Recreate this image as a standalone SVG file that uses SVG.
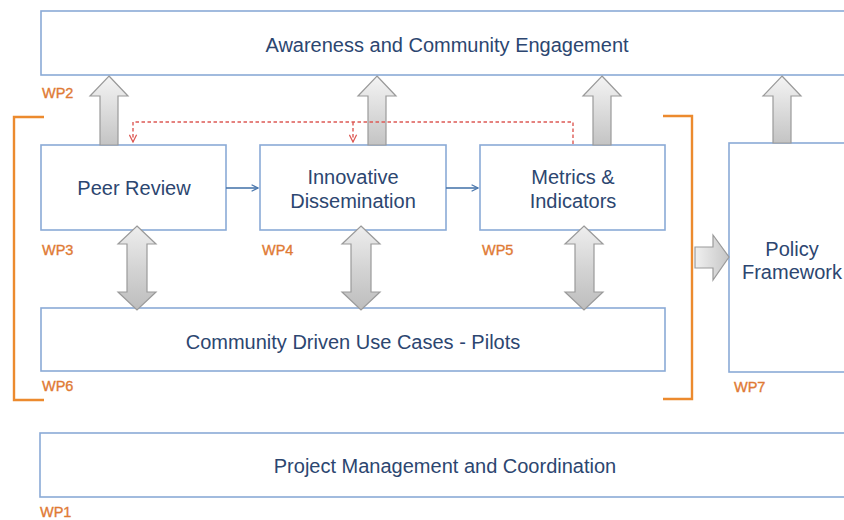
<svg xmlns="http://www.w3.org/2000/svg" width="844" height="520" viewBox="0 0 844 520">
<style>
.box{fill:#ffffff;stroke:#8aaad6;stroke-width:1.6}
.lbl{font-family:"Liberation Sans",Arial,sans-serif;font-size:20px;fill:#2c4670;text-anchor:middle}
.wp{font-family:"Liberation Sans",Arial,sans-serif;font-size:14.5px;fill:#e07a35;stroke:#e07a35;stroke-width:0.35}
.fat{stroke:#9a9a9a;stroke-width:1.2}
.dash{fill:none;stroke:#dd5a55;stroke-width:1.4;stroke-dasharray:3.5,2.5}
.flow{fill:none;stroke:#4c78ad;stroke-width:1.6}
.brk{fill:none;stroke:#ec8a2e;stroke-width:2.4}
</style>
<defs>
<linearGradient id="gv" x1="0" y1="0" x2="0" y2="1">
<stop offset="0" stop-color="#f4f4f4"/>
<stop offset="1" stop-color="#c4c4c4"/>
</linearGradient>
<linearGradient id="gh" x1="0" y1="0" x2="1" y2="0">
<stop offset="0" stop-color="#f0f0f0"/>
<stop offset="1" stop-color="#c6c6c6"/>
</linearGradient>
<linearGradient id="gd" x1="0" y1="0" x2="0" y2="1">
<stop offset="0" stop-color="#eeeeee"/>
<stop offset="0.5" stop-color="#d4d4d4"/>
<stop offset="1" stop-color="#bdbdbd"/>
</linearGradient>
<marker id="ab" viewBox="0 0 10 10" refX="9" refY="5" markerWidth="8" markerHeight="8" markerUnits="userSpaceOnUse" orient="auto">
<path d="M1,1 L9,5 L1,9" fill="none" stroke="#4c78ad" stroke-width="1.6"/>
</marker>
<marker id="ar" viewBox="0 0 10 10" refX="9" refY="5" markerWidth="9" markerHeight="9" markerUnits="userSpaceOnUse" orient="auto">
<path d="M1,1 L9,5 L1,9" fill="none" stroke="#dd5a55" stroke-width="1.4"/>
</marker>
</defs>

<g id="wp2">
<rect class="box" x="41" y="11" width="810" height="64"/>
<text class="lbl" x="447" y="52">Awareness and Community Engagement</text>
<text class="wp" x="42" y="98">WP2</text>
</g>
<g id="wp3">
<rect class="box" x="41" y="145" width="185" height="85"/>
<text class="lbl" x="134" y="195">Peer Review</text>
<text class="wp" x="42" y="255">WP3</text>
</g>
<g id="wp4">
<rect class="box" x="260" y="145" width="186" height="85"/>
<text class="lbl" x="353" y="184">Innovative</text>
<text class="lbl" x="353" y="208">Dissemination</text>
<text class="wp" x="262" y="255">WP4</text>
</g>
<g id="wp5">
<rect class="box" x="480" y="145" width="185" height="85"/>
<text class="lbl" x="573" y="184">Metrics &amp;</text>
<text class="lbl" x="573" y="208">Indicators</text>
<text class="wp" x="482" y="255">WP5</text>
</g>
<g id="wp6">
<rect class="box" x="41" y="308" width="624" height="63"/>
<text class="lbl" x="353" y="349">Community Driven Use Cases - Pilots</text>
<text class="wp" x="42" y="391">WP6</text>
</g>
<g id="wp7">
<rect class="box" x="729" y="143" width="130" height="229"/>
<text class="lbl" x="792" y="256">Policy</text>
<text class="lbl" x="792" y="279">Framework</text>
<text class="wp" x="734" y="392">WP7</text>
</g>
<g id="wp1">
<rect class="box" x="40" y="433" width="810" height="64"/>
<text class="lbl" x="445" y="473">Project Management and Coordination</text>
<text class="wp" x="40" y="517">WP1</text>
</g>
<g id="brackets">
<path class="brk" d="M44,117 L14,117 L14,400 L44,400"/>
<path class="brk" d="M663,116 L692,116 L692,399 L663,399"/>
</g>

<g id="connectors">
<path class="fat" fill="url(#gv)" d="M109,76 L128,96 L118,96 L118,145 L100,145 L100,96 L90,96 Z"/>
<path class="fat" fill="url(#gv)" d="M377,76 L396,96 L386,96 L386,145 L368,145 L368,96 L358,96 Z"/>
<path class="fat" fill="url(#gv)" d="M602,76 L621,96 L611,96 L611,145 L593,145 L593,96 L583,96 Z"/>
<path class="fat" fill="url(#gv)" d="M782,76 L801,96 L791,96 L791,143 L773,143 L773,96 L763,96 Z"/>
<path class="fat" fill="url(#gd)" d="M137,226 L156,244 L147,244 L147,292 L156,292 L137,310 L118,292 L127,292 L127,244 L118,244 Z"/>
<path class="fat" fill="url(#gd)" d="M361,226 L380,244 L371,244 L371,292 L380,292 L361,310 L342,292 L351,292 L351,244 L342,244 Z"/>
<path class="fat" fill="url(#gd)" d="M584,226 L603,244 L594,244 L594,292 L603,292 L584,310 L565,292 L575,292 L575,244 L565,244 Z"/>
<path class="fat" fill="url(#gh)" d="M695,247 L713,247 L713,235 L729,257 L713,280 L713,268 L695,268 Z"/>
<path class="flow" d="M226,188 L258,188" marker-end="url(#ab)"/>
<path class="flow" d="M446,188 L478,188" marker-end="url(#ab)"/>
<path class="dash" d="M573,144 L573,122 L133,122 L133,142" marker-end="url(#ar)"/>
<path class="dash" d="M353,122 L353,142" marker-end="url(#ar)"/>
</g>
</svg>
